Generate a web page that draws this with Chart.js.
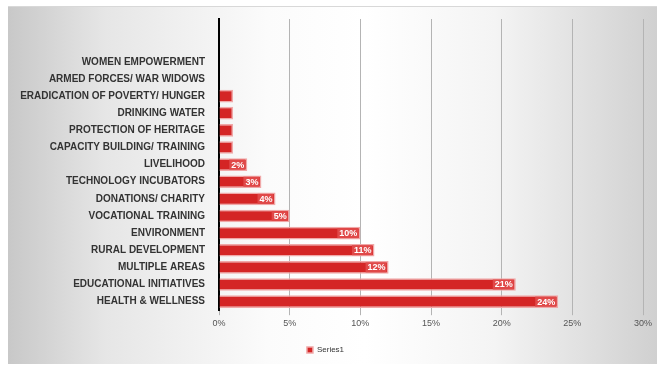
<!DOCTYPE html>
<html lang="en">
<head>
<meta charset="UTF-8">
<title>Series1</title>
<script src="https://cdn.jsdelivr.net/npm/chart.js"></script>
<style>
  html, body { margin: 0; padding: 0; background: #fff; }
  #wrap {
    position: absolute; left: 8px; top: 6px; width: 649px; height: 357px;
    border-top: 1px solid #d8d8d8;
    background: linear-gradient(to right, #c8c8c8 0%, #e6e6e6 15%, #fbfbfb 40%, #ffffff 55%, #f4f4f4 75%, #d0d0d0 100%);
  }
</style>
<script>
// categories, top to bottom (two blank slots at the top of the axis)
const categories = [
  '', '',
  'WOMEN EMPOWERMENT',
  'ARMED FORCES/ WAR WIDOWS',
  'ERADICATION OF POVERTY/ HUNGER',
  'DRINKING WATER',
  'PROTECTION OF HERITAGE',
  'CAPACITY BUILDING/ TRAINING',
  'LIVELIHOOD',
  'TECHNOLOGY INCUBATORS',
  'DONATIONS/ CHARITY',
  'VOCATIONAL TRAINING',
  'ENVIRONMENT',
  'RURAL DEVELOPMENT',
  'MULTIPLE AREAS',
  'EDUCATIONAL INITIATIVES',
  'HEALTH & WELLNESS'
];

// share of spend, percent
const series1 = [null, null, 0, 0, 1, 1, 1, 1, 2, 3, 4, 5, 10, 11, 12, 21, 24];

const xTicks = [0, 5, 10, 15, 20, 25, 30];

// white % labels at the end of each bar
const barLabels = {
  id: 'barLabels',
  afterDatasetsDraw(chart) {
    const ctx = chart.ctx;
    const meta = chart.getDatasetMeta(0);
    ctx.save();
    ctx.font = 'bold 9px "Liberation Sans", sans-serif';
    ctx.textAlign = 'right';
    ctx.textBaseline = 'middle';
    meta.data.forEach((bar, i) => {
      const v = series1[i];
      if (v == null || v < 2) return;
      const txt = v + '%';
      const w = ctx.measureText(txt).width;
      ctx.fillStyle = '#e04848';
      ctx.fillRect(bar.x - w - 5, bar.y - 5, w + 3, 10);
      ctx.fillStyle = '#ffffff';
      ctx.fillText(txt, bar.x - 3, bar.y + 0.5);
    });
    ctx.restore();
  }
};

document.addEventListener('DOMContentLoaded', function () {
  const ctx = document.getElementById('myChart').getContext('2d');
  new Chart(ctx, {
    type: 'bar',
    data: {
      labels: categories,
      datasets: [{
        label: 'Series1',
        data: series1,
        backgroundColor: '#d42525',
        borderColor: '#f0a8a8',
        borderWidth: 1.5,
        borderSkipped: 'start',
        categoryPercentage: 1,
        barPercentage: 0.74
      }]
    },
    options: {
      indexAxis: 'y',
      responsive: false,
      animation: false,
      layout: { padding: { top: 12, right: 14, bottom: 0, left: 0 } },
      scales: {
        x: {
          min: 0, max: 30,
          afterBuildTicks: s => { s.ticks = xTicks.map(v => ({ value: v })); },
          ticks: {
            callback: v => v + '%',
            color: '#555',
            font: { size: 9, family: '"Liberation Sans", sans-serif' },
            padding: 3
          },
          grid: { color: '#b4b4b4', lineWidth: 1, tickLength: 5 },
          border: { display: false }
        },
        y: {
          afterFit: s => { s.width = 211; },
          ticks: {
            color: '#333',
            font: { size: 10, weight: 'bold', family: '"Liberation Sans", sans-serif' },
            padding: 2,
            autoSkip: false
          },
          grid: { drawOnChartArea: false, color: 'rgba(0,0,0,0)', tickLength: 12 },
          border: { color: '#000', width: 2 }
        }
      },
      plugins: {
        legend: {
          position: 'bottom',
          labels: {
            boxWidth: 6, boxHeight: 6,
            color: '#333',
            font: { size: 8, family: '"Liberation Sans", sans-serif' },
            padding: 14
          }
        },
        tooltip: { enabled: false }
      }
    },
    plugins: [barLabels]
  });
});
</script>
</head>
<body>
<div id="wrap">
  <canvas id="myChart" width="649" height="357"></canvas>
</div>
</body>
</html>
